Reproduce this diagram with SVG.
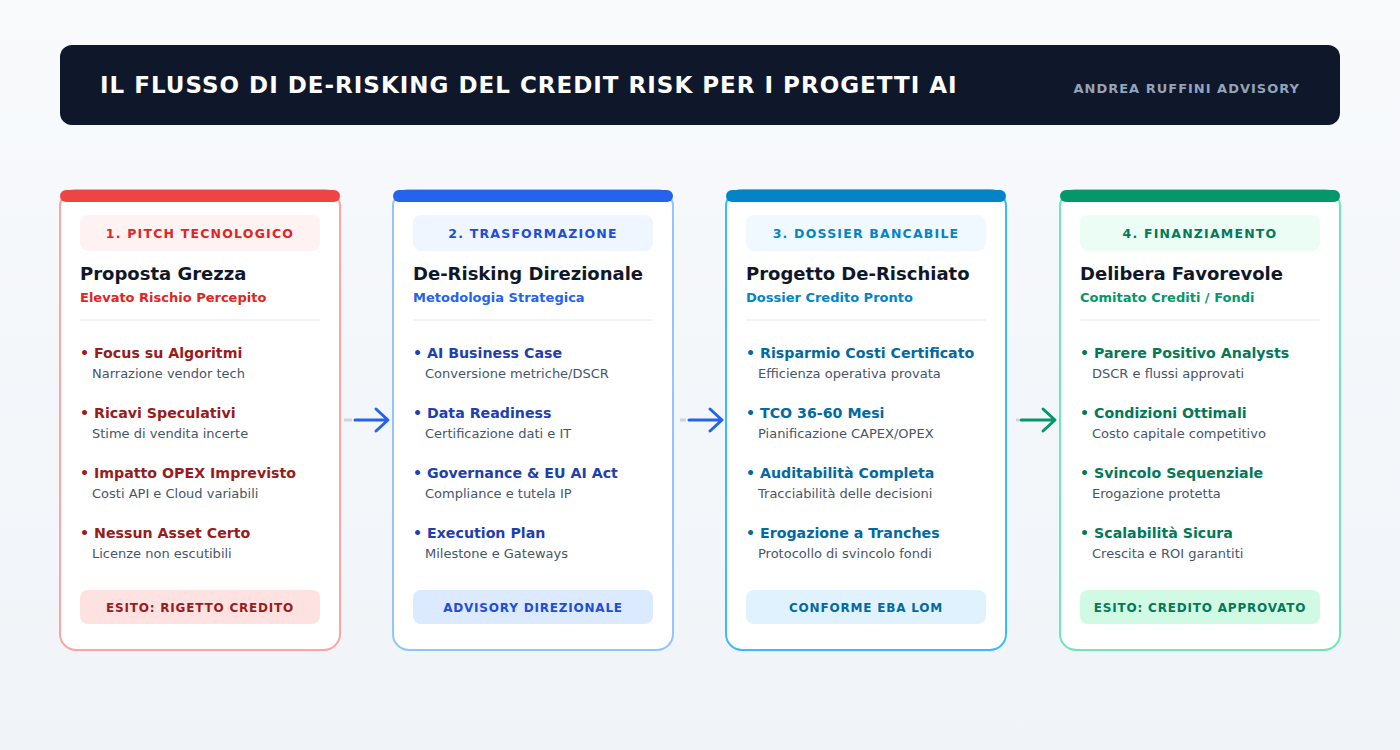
<svg xmlns="http://www.w3.org/2000/svg" width="1400" height="750" viewBox="0 0 1400 750">
<defs>
<linearGradient id="bg" x1="0" y1="0" x2="0" y2="1">
<stop offset="0" stop-color="#f8fafc"/>
<stop offset="1" stop-color="#f0f4f8"/>
</linearGradient>
</defs>
<style>
text{font-family:"DejaVu Sans","Liberation Sans",sans-serif}
.card{fill:#ffffff;stroke-width:2}
.phase{font-size:12.5px;font-weight:bold;letter-spacing:1.2px;text-anchor:middle}
.title{font-size:18px;font-weight:bold;fill:#0f172a}
.sub{font-size:13px;font-weight:bold}
.div{stroke:#f1f5f9;stroke-width:2}
.bt{font-size:14.2px;font-weight:bold}
.bd{font-size:13px;fill:#475569}
.res{font-size:12px;font-weight:bold;letter-spacing:0.8px;text-anchor:middle}
.base{stroke:#cbd5e1;stroke-width:3;fill:none}
.arr{stroke-width:3;fill:none;stroke-linecap:round;stroke-linejoin:round}
</style>
<rect x="0" y="0" width="1400" height="750" fill="url(#bg)"/>
<g id="header">
<rect x="60" y="45" width="1280" height="80" rx="12" fill="#0f172a"/>
<text x="100" y="93" font-size="23" font-weight="bold" fill="#ffffff" letter-spacing="1">IL FLUSSO DI DE-RISKING DEL CREDIT RISK PER I PROGETTI AI</text>
<text x="1300" y="93" font-size="13" font-weight="bold" fill="#94a3b8" letter-spacing="1" text-anchor="end">ANDREA RUFFINI ADVISORY</text>
</g>
<g id="connectors">
<line class="base" x1="344" y1="420" x2="352" y2="420"/>
<path class="arr" stroke="#2563eb" d="M355 420 H387 M376 409 L388 420 L376 431"/>
<line class="base" x1="680" y1="420" x2="686" y2="420"/>
<path class="arr" stroke="#2563eb" d="M689 420 H721 M710 409 L722 420 L710 431"/>
<line class="base" x1="1016" y1="420" x2="1019" y2="420"/>
<path class="arr" stroke="#059669" d="M1021 420 H1054 M1043 409 L1055 420 L1043 431"/>
</g>
<g id="card1">
<rect class="card" x="60" y="190" width="280" height="460" rx="16" stroke="#fca5a5"/>
<rect x="60" y="190" width="280" height="12" rx="6" fill="#ef4444"/>
<rect x="80" y="215" width="240" height="36" rx="8" fill="#fef2f2"/>
<text class="phase" x="200" y="238" fill="#dc2626">1. PITCH TECNOLOGICO</text>
<text class="title" x="80" y="280">Proposta Grezza</text>
<text class="sub" x="80" y="302" fill="#dc2626">Elevato Rischio Percepito</text>
<line class="div" x1="80" y1="320" x2="320" y2="320"/>
<g fill="#991b1b">
<text class="bt" x="80" y="358">• Focus su Algoritmi</text>
<text class="bt" x="80" y="418">• Ricavi Speculativi</text>
<text class="bt" x="80" y="478">• Impatto OPEX Imprevisto</text>
<text class="bt" x="80" y="538">• Nessun Asset Certo</text>
</g>
<text class="bd" x="92" y="378">Narrazione vendor tech</text>
<text class="bd" x="92" y="438">Stime di vendita incerte</text>
<text class="bd" x="92" y="498">Costi API e Cloud variabili</text>
<text class="bd" x="92" y="558">Licenze non escutibili</text>
<rect x="80" y="590" width="240" height="34" rx="8" fill="#fee2e2"/>
<text class="res" x="200" y="612" fill="#991b1b">ESITO: RIGETTO CREDITO</text>
</g>
<g id="card2">
<rect class="card" x="393" y="190" width="280" height="460" rx="16" stroke="#93c5fd"/>
<rect x="393" y="190" width="280" height="12" rx="6" fill="#2563eb"/>
<rect x="413" y="215" width="240" height="36" rx="8" fill="#eff6ff"/>
<text class="phase" x="533" y="238" fill="#1d4ed8">2. TRASFORMAZIONE</text>
<text class="title" x="413" y="280">De-Risking Direzionale</text>
<text class="sub" x="413" y="302" fill="#2563eb">Metodologia Strategica</text>
<line class="div" x1="413" y1="320" x2="653" y2="320"/>
<g fill="#1e40af">
<text class="bt" x="413" y="358">• AI Business Case</text>
<text class="bt" x="413" y="418">• Data Readiness</text>
<text class="bt" x="413" y="478">• Governance &amp; EU AI Act</text>
<text class="bt" x="413" y="538">• Execution Plan</text>
</g>
<text class="bd" x="425" y="378">Conversione metriche/DSCR</text>
<text class="bd" x="425" y="438">Certificazione dati e IT</text>
<text class="bd" x="425" y="498">Compliance e tutela IP</text>
<text class="bd" x="425" y="558">Milestone e Gateways</text>
<rect x="413" y="590" width="240" height="34" rx="8" fill="#dbeafe"/>
<text class="res" x="533" y="612" fill="#1d4ed8">ADVISORY DIREZIONALE</text>
</g>
<g id="card3">
<rect class="card" x="726" y="190" width="280" height="460" rx="16" stroke="#38bdf8"/>
<rect x="726" y="190" width="280" height="12" rx="6" fill="#0284c7"/>
<rect x="746" y="215" width="240" height="36" rx="8" fill="#f0f9ff"/>
<text class="phase" x="866" y="238" fill="#0284c7">3. DOSSIER BANCABILE</text>
<text class="title" x="746" y="280">Progetto De-Rischiato</text>
<text class="sub" x="746" y="302" fill="#0284c7">Dossier Credito Pronto</text>
<line class="div" x1="746" y1="320" x2="986" y2="320"/>
<g fill="#0369a1">
<text class="bt" x="746" y="358">• Risparmio Costi Certificato</text>
<text class="bt" x="746" y="418">• TCO 36-60 Mesi</text>
<text class="bt" x="746" y="478">• Auditabilità Completa</text>
<text class="bt" x="746" y="538">• Erogazione a Tranches</text>
</g>
<text class="bd" x="758" y="378">Efficienza operativa provata</text>
<text class="bd" x="758" y="438">Pianificazione CAPEX/OPEX</text>
<text class="bd" x="758" y="498">Tracciabilità delle decisioni</text>
<text class="bd" x="758" y="558">Protocollo di svincolo fondi</text>
<rect x="746" y="590" width="240" height="34" rx="8" fill="#e0f2fe"/>
<text class="res" x="866" y="612" fill="#0369a1">CONFORME EBA LOM</text>
</g>
<g id="card4">
<rect class="card" x="1060" y="190" width="280" height="460" rx="16" stroke="#6ee7b7"/>
<rect x="1060" y="190" width="280" height="12" rx="6" fill="#059669"/>
<rect x="1080" y="215" width="240" height="36" rx="8" fill="#ecfdf5"/>
<text class="phase" x="1200" y="238" fill="#047857">4. FINANZIAMENTO</text>
<text class="title" x="1080" y="280">Delibera Favorevole</text>
<text class="sub" x="1080" y="302" fill="#059669">Comitato Crediti / Fondi</text>
<line class="div" x1="1080" y1="320" x2="1320" y2="320"/>
<g fill="#047857">
<text class="bt" x="1080" y="358">• Parere Positivo Analysts</text>
<text class="bt" x="1080" y="418">• Condizioni Ottimali</text>
<text class="bt" x="1080" y="478">• Svincolo Sequenziale</text>
<text class="bt" x="1080" y="538">• Scalabilità Sicura</text>
</g>
<text class="bd" x="1092" y="378">DSCR e flussi approvati</text>
<text class="bd" x="1092" y="438">Costo capitale competitivo</text>
<text class="bd" x="1092" y="498">Erogazione protetta</text>
<text class="bd" x="1092" y="558">Crescita e ROI garantiti</text>
<rect x="1080" y="590" width="240" height="34" rx="8" fill="#d1fae5"/>
<text class="res" x="1200" y="612" fill="#047857">ESITO: CREDITO APPROVATO</text>
</g>
</svg>
